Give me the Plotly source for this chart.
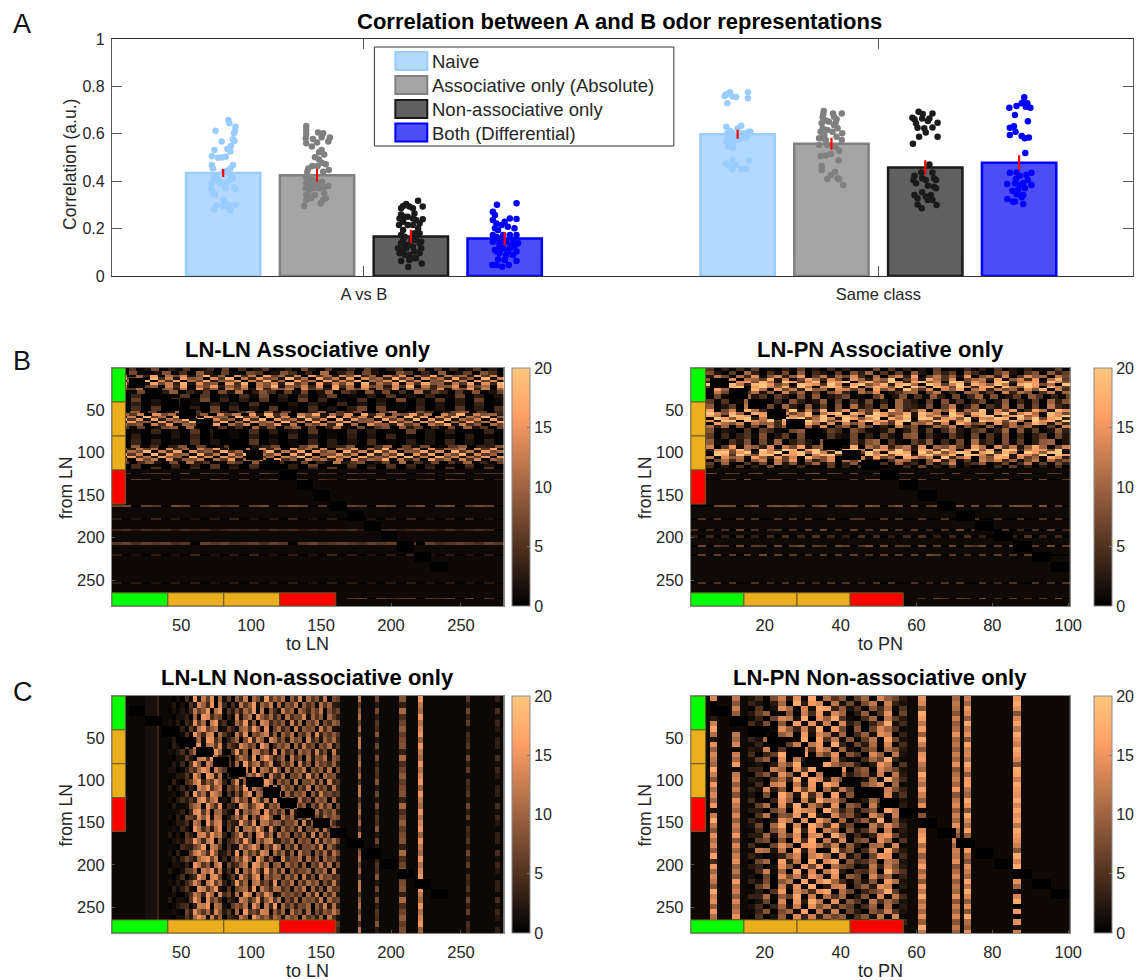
import numpy as np
import plotly.graph_objects as go

W, H = 1137, 980
EXTRA = 20  # paper runs past the window on the right, so that colorbars do not push the layout
ML, MR, MT, MB = 40, 2 + EXTRA, 30, 40

# ---------- Panel A data ----------
categories = ["A vs B", "Same class"]
category_pos = [1, 2]
group_names = ["Naive", "Associative only (Absolute)", "Non-associative only", "Both (Differential)"]
group_offsets = [-0.2736, -0.0912, 0.0912, 0.2736]
naive_means = [0.435, 0.598]
assoc_means = [0.425, 0.558]
nonassoc_means = [0.167, 0.458]
both_means = [0.158, 0.478]
naive_err = [0.017, 0.019]
assoc_err = [0.026, 0.025]
nonassoc_err = [0.028, 0.030]
both_err = [0.028, 0.032]

naive_ab_y = [.658,.644,.630,.613,.602,.613,.577,.571,.567,.55,.532,.536,.532,.525,.505,.499,.50,.503,.468,.454,.468,.454,.444,.44,.422,.412,.391,.405,.391,.384,.426,.412,.374,.367,.37,.366,.352,.342,.323,.304,.30,.30,.298,.281,.295,.293,.277,.398,.398,.405]
naive_ab_dx = [.010,.012,.024,.023,.021,-.015,.019,.022,-.003,.015,-.017,.008,.013,.014,-.022,-.010,-.003,.005,-.022,-.020,.019,.014,.008,.001,-.015,-.019,-.023,-.012,-.005,.001,.014,.019,.021,.024,.005,-.023,-.021,-.015,0,.005,.011,.024,-.013,-.018,0,.008,.014,-.008,.008,.014]
assoc_ab_y = [.633,.616,.599,.581,.56,.546,.606,.602,.584,.567,.585,.578,.563,.532,.522,.513,.501,.492,.478,.471,.464,.464,.454,.447,.44,.44,.419,.412,.405,.391,.384,.391,.398,.38,.37,.363,.37,.37,.374,.342,.335,.342,.349,.328,.321,.328,.307,.295,.321,.384]
assoc_ab_dx = [-.021,-.021,-.021,-.022,-.021,-.010,.002,.012,.025,.022,.009,-.008,0,.009,.004,.014,-.004,.004,.009,.017,-.009,.001,-.017,.023,-.019,.012,-.022,-.015,-.009,-.021,-.012,.001,.010,.022,-.022,-.015,-.006,.004,.014,-.021,-.012,-.004,.014,.017,-.021,-.012,.007,-.025,.012,-.003]
nonassoc_ab_y = [.318,.293,.304,.295,.286,.286,.293,.264,.26,.25,.239,.215,.229,.243,.222,.201,.194,.215,.215,.173,.166,.18,.18,.145,.138,.138,.117,.11,.131,.124,.117,.096,.089,.089,.103,.096,.063,.068,.075,.053,.038,.117,.152,.152,.131,.075,.152,.25,.236,.243]
nonassoc_ab_dx = [.014,.023,-.009,-.015,-.019,.004,-.003,.007,-.019,-.012,.023,-.023,-.015,.004,.017,.014,-.015,-.006,.004,-.019,-.012,.017,.007,.020,.017,-.019,-.025,-.015,-.006,.004,.020,-.022,-.012,-.003,.007,.017,-.019,-.003,.010,.021,-.005,-.009,.001,.010,-.012,.007,-.015,-.006,.010,-.022]
both_ab_y = [.301,.307,.271,.257,.236,.222,.243,.24,.229,.208,.201,.215,.201,.194,.173,.166,.173,.173,.173,.145,.145,.152,.138,.103,.117,.117,.103,.096,.089,.089,.07,.063,.068,.046,.046,.039,.046,.124,.103,.131,.11,.138,.152,.159,.124]
both_ab_dx = [-.015,.023,-.023,-.019,-.023,-.016,.010,.023,0,.006,-.019,-.006,.019,-.013,-.023,-.016,-.003,.010,.023,-.023,.003,.016,-.010,-.016,-.003,.010,.023,-.010,.003,.016,-.013,.023,0,-.024,-.016,-.005,.008,-.010,.006,.013,-.019,.026,-.003,-.013,.019]
naive_sc_y = [.775,.767,.759,.757,.755,.775,.75,.729,.63,.613,.634,.623,.602,.602,.609,.602,.609,.588,.595,.588,.588,.577,.567,.567,.553,.546,.539,.489,.475,.466,.45,.468,.488,.451,.451,.464,.602,.574,.581,.581]
naive_sc_dx = [-.015,-.022,-.025,-.010,-.003,.020,.020,-.020,-.022,-.015,.007,0,-.010,-.020,.022,.017,.025,.012,.020,-.017,-.007,.003,-.014,-.022,-.010,-.018,-.009,-.010,-.023,-.018,-.010,-.003,.022,.007,.017,-.014,.009,-.004,-.020,.015]
assoc_sc_y = [.696,.682,.669,.686,.672,.686,.655,.644,.647,.623,.609,.602,.609,.595,.581,.574,.553,.581,.574,.588,.553,.546,.529,.515,.508,.506,.487,.464,.447,.44,.426,.409,.412,.408,.384,.637,.651,.616,.661,.623]
assoc_sc_dx = [-.015,-.016,-.017,.003,.005,.020,-.010,-.019,.008,.012,.002,.021,-.021,-.014,-.019,-.011,-.024,-.024,.020,.010,-.008,.008,.015,-.001,-.011,-.021,.014,-.019,-.019,.007,-.001,-.008,.012,.015,.023,.005,-.005,-.008,.010,-.017]
nonassoc_sc_y = [.693,.684,.686,.668,.661,.665,.665,.654,.644,.647,.626,.623,.627,.605,.588,.588,.558,.47,.437,.423,.405,.391,.412,.405,.437,.412,.405,.381,.377,.342,.353,.335,.342,.321,.328,.302,.30,.286,.321,.37]
nonassoc_sc_dx = [-.013,-.005,.014,-.025,-.021,-.006,.008,.005,-.018,.024,-.015,-.002,.014,.001,-.012,.024,-.024,.008,-.008,-.021,-.023,-.018,-.006,.001,.014,.017,.021,.005,.017,-.021,-.006,.001,.011,.014,-.015,-.015,.022,-.007,.005,.021]
both_sc_y = [.754,.733,.729,.729,.714,.71,.71,.717,.679,.653,.626,.632,.609,.595,.591,.581,.584,.519,.436,.437,.436,.426,.423,.405,.409,.388,.391,.384,.391,.384,.36,.363,.37,.342,.345,.325,.314,.314,.304,.332]
both_sc_dx = [.010,.008,.016,.005,.013,.022,-.019,-.005,-.008,.017,-.018,-.010,-.007,-.018,.005,.011,.019,.012,-.018,-.005,.024,.014,.001,.017,-.006,-.023,-.008,.024,.008,.001,-.013,-.002,.011,.008,-.005,-.023,-.012,-.008,.008,.005]

# ---------- Heatmap data ----------
# characters are base-21 values, 0-9 then a=10 ... k=20
n_from = 280
n_ln = 280
n_pn = 100
block_rows = 12
block_cols_ln = 12
block_cols_pn = 5
n_blocks = 19
panel_levels = [0.9, 1.0, 0.75, 0.85]

lnln_assoc_row_edges = [0,4,8,11,14,17,20,23,26,30,35,40,45,50,53,56,59,62,65,68,72,78,84,90,94,97,100,103,106,109,113,117,119,123,125,130,132,161,163,177,179,189,192,205,208,219,221,252,254,270,272,280]
lnln_assoc_rows = [
"20602803160240705026013082060140720350180604026030",
"4081029050a30710860295040c0370820196040a0270950",
"7e1b4h0c8f29k3a0g5d1i7b3e0h6c2f9j4a1e7g0c5i2d8b3h6f1",
"3i7c0k5e2h9b1f6j0d4g8a2k5c1i7e3h0f9b4j6d1g8c3i5a0k2e",
"h2d8k1f5i0c7j3a9g1e6k4b0h8d2i5f7j1c9g3k6e0a8i4d1h7f2",
"0j6c1i8e3k2g7a0h5k1d9f3j6b1i4e8g0k3c7h1f5j9a2d6i0g4k",
"9d2g7a0e5i1c8h3b6f0d9k2a7e4g1i5c0h8b3f6j1d4a9g2e7c0i",
"2a6c0f8b3d1h5a0e7c2g4b9d0f6a3i1c8e2b5g0d7a4f1c9h3e0b",
"5018203a0416082c0395071802a0630918050c2740619027",
"1040301606020518030402701030602040170302",
"3070205018040306020704010502080306030701",
"1030204010302050102031040203010302030401",
"2050601030704020601050203807010402060305",
"50a1702c0618305a0927014b0638107c0295038a1604",
"1b6e0g8c2i4a0f7d1h3k5b0e9i2c6g0j4d1a8h5c0f7k2e9b3",
"i3e0k7c1j5g0h9a2k6d0i4f1j8b3k0g6e2i9c1k5h0f7j2d8k1a",
"0k6g1i3d9k2j0f7b1i5k0h8c3j6e0k2g9a1i7d4k0h5j2c8f0i3",
"e1i7a0h4c8k1f6j0b3g9d1k5e2i0c7h3a9f0j6d2g8k0b4i6c1h",
"2c7a0e5g1b9d3i0c6f1a8h2d0b7e4j1c0g9a3f6b0d8i2e5a0c7",
"0617028a0c3906150b2807a1604c2081690a3705180b2607",
"3010402060301050302060104030107020301040",
"1030102040201030104020103020401020103010",
"2040301050203060201040302050103020402030",
"60a1503907016a0248017c0349015b0728016a0439",
"0a3d7c1f5b0e8h2a6d1g4c0i7b3f1d9h0c5k2a7e1g4b9d0f6i2",
"h2c8k1e5i0g7a3j6b0f9k2d4i1h8c0j5e3k7g1a9i4f0k6d2h8c",
"1i6e0k3h9b1j5d0g7k2c8f0i4k1a9h6e0j3c7k1g5i0d8k2f6b0",
"e0h5c2i9a1k4f0g7d2j6b0e8k1c3h9f0i5a7g1k3d0j8e2c6h0g",
"4b0f8d1g3a9e0c6h2b7d0i5a1f8c3e0g6b9j1d4a0h7c2e5f0b8",
"1705a2080c3601960a2b5018040d3690271c0518062b0417",
"2050104030602050103070105020604030105020",
"3040503040603040503040603040503040503060",
"1",
"5604650706450607504606507460560460570465",
"1",
"6075060460750604607506407506050460750604",
"1",
"7807608706867078068706087608706807806870",
"1",
"3020403020304020304020304020304020304020",
"1",
"4535453545345453545343545354534543534540",
"1",
"6757675607675675760675676576756075676576",
"1",
"3020302040203040203020403020304020302030",
"1",
"3030203030203030203020303020303020302030",
"1",
"1111111111111111111111116707567065707060",
"1",
]

lnpn_assoc_row_edges = [0,4,8,12,15,18,21,24,27,31,36,42,48,52,55,58,61,64,67,71,76,84,91,95,98,101,104,107,110,114,118,123,125,130,132,161,163,177,179,189,192,197,200,208,211,219,221,252,254,270,272,280]
lnpn_assoc_rows = [
"20503040601030602040301070503020601040305020301060",
"4082060a305170904206083a05160920736084106a20580936",
"6a2c70b4e18d39f06c2a7e41b09d3g07c5a2f18b3d06e9a1c7",
"1c9f3e0ba6h2d07gb4e81fa3c9k06d2hb5e07ac3g19d4f0bi6",
"jc3kh0ef8ib2kg5dj1hfk0cia7ke3gj9d1kh6fb0ik4ceg2jd8",
"h0ke9jc3ikf7b0jhe5kd1gk8ci3hjb0kf6dk2ie9jc1hkg7b0k",
"ek6b2hj0fkd9i3kc0ejg6k1bhf8j2kc0ie7kd4gh2jb9kf0hc6",
"9d0ga5e2ib0f7c3h9a1ed6b0g8c2ja5e1d9h0bf3c7a2e8i0d4",
"5a0c7306b290d4a1608c30b7e0259a07c140a9260d3b805c1a",
"2807140a25063081902470106a028051930704a180260950317",
"306050 1a270408302906051703 0a420608150370290416 0a38",
"5090260c4170a30916080b25070a431806c039052a08170c42",
"a3g07d1ib40e8k2c5h09f1a6d0jb37e0c9h2a8k1d6f04gb2ie",
"g2kd8ia0hf3ke7bj1cgk0id5kf9ah2jeb0kc6gi1fk3dhb0je7",
"k7hc2kif0gjk4ebi9k1fhc0kjg6dk2ibf8kh0ejk3cgk9d1iek",
"ej1kg9hk3ci0kfk6bjd2kg8ek0hci1kj5fg9k2edkh0ibk7gj3",
"9kf2jk0iebk5gh1kdk8cj0fkeg6ik2b9kh3dj0kfg7ic1keh4k",
"3e0gb8d1c9a4f07hb2e0d8c1ga5i0b9e3d0hc7a1f6b09id2c4",
"60b3a08170c4905a2e0691b7030d5802a6c0831905b7a2060d",
"30802105064107930264085102703816049205703a08160293",
"20604035180260703052170306208904106207051804036072",
"40910528071a036209140728a051063904170b250816039a02",
"a2d06f1b93e0c7g28a4d1h0b7e39c2f0a8d61gb0e5c29ha07d",
"gk3ef9jb0kd6ki2gk7e1hkc0jf8kb3ig6kd1ek9h0kj4cgf7k2",
"kh1jk7fk2iek0gj9kd3khf6kc1ikg0kbj8ekh2fk5id0kg9jk1",
"ei0kg5kc8jk2hfk1dik6gb0kej7hk3fk9ci0kjd5hk2ge8k0jf",
"7hc1e9b0ga3f6d1ib8e0j5c2g7a0he9d1k4bf0c8ig2e6a0hd3",
"2e07b4a09d1c6f0a38e0b7d1905ca208g3b160d9e4a07c1b58",
"3060a105170c2804a1603907150a240816d035902704b16083",
"10402050307020401060305020104070305020104060302050",
"1",
"067065067006507806507006506700650700650706700650",
"1",
"07005608006700507800060780056070080050607800607006",
"1",
"00078706807878607806870870680706700807067078708060",
"1",
"05050050500505050050055005050050050505005005005050",
"1",
"50405070504505060705060507050604050705060504050604",
"1",
"30403040304050405040305040304050304050304030503040",
"1",
"07065070650706706507605807065070607065706070560706",
"1",
"06060606070606050606060506060607606050606050600000",
"1",
"05050500504050504050504050500504050500504050050405",
"1",
"11111111111111111111111111111150750650705060505070",
"1",
]

lnln_nonassoc_row_edges = list(range(0, 281, 7))
lnln_nonassoc_col_edges = [0,8,16,24,32,34,36] + list(range(40, 161, 3)) + [163,170,176,178,183,188,191,196,205,210,216,219,222,235,245,253,256,270,274,277,280]
lnln_nonassoc_left = "1112511"
lnln_nonassoc_mid = [
"102061k3g8j1e280c6h0ea3k7d9f0c5i1e7b3g0a",
"1302072id5k0h5060g7ck2d9h1e3b8g0c6a1f7d4",
"021315g8ck1fj173a4e9k1g0c62h9d0ea5c8g1b6",
"102240d1ki6b9041h2bf0jc8e5b0f6a9i2d7c0e8",
"213053j7e0hk3602e8k3c0ig5a7c2h4e0b8f1a6d",
"1214083gk9cf12841cf7kd2j09e5a0g3c9b1h6d2",
"301160kc5hi0e730g6j0b9eh3c1d8f0a6e2i4b7c",
"1307269e2kj6c048d0ak5gc1ie6b3f9c0h5a2d8e",
"042091hk1fg8i2953ie8b1kf06c9e0d4g7a1b8f3",
"213618e4jc0kd107k5c0hg7a2j0f6b2e9c3h5a1g",
"1022831gi7ke53609fb3j0ekc48d1g6a0e3b9f2c",
"031507kc2hd9j082e1k7dg4ai03c7f0h5b1e8a6d",
"2201496ekg1hb713c8h2k0fd5ja0e4c9g1b7d3f0",
"113372jd0ki4f0522gbe9kc1h75f0a8d3i6c0e9b",
"041068gk5c8je408j0ci6f3ke1c7b2g0a9e4d1h5",
"3025140ifk7dh196d5k1gb8h0f2e8c1a6g0d7b3f",
"120280k9e3jgc072a3fj0ec7k2g1d5b9e0c4h8a6",
"2036373hk8fi1309h8c2kd5g1j0b7e3f6a2d9c1e",
"031129eg1kc6j1640jf6bik3c9e4a0g8c1b5f7d0",
"112405ik7h0de520k2d9eg1j7c6c1f3a9h0e5b8d",
"2041985jck2gf038e7i0c5hkb10g8d2b6e1a4f9c",
"013361gd0k9hi2743kb6j1gf8dc5a9e0h3c7b1d6",
"121520kf6c3ej083g0ef9kc2i51d7b4g0a8e2f6c",
"3020741hi8kdg406bj4c1hk7e0f9c0a6d3h1e5b8",
"023287ke5gj0c157d6ka0f8gi33a7e1c8b0g4d9f",
"1106439ck1hf70622h9ekd1c6je0b5f2a9c6h1d7",
"204018gjd6kb2382k1f7c5ig0e7d3c0g8a1b6e4f",
"1315963eik9h0507e8jb0kd4c20h6a9f2e5c1d8b",
"022140kg7c2fj0946cg2ki9f1bd1e8b3c0a7g5f2",
"310278d1hek5g261h0e8jc3k7d5f0c6a9d2b8e1h",
"1026036kf0ij90381ib5gk0e8cc3d7e0g4a1f9b6",
"213159ic2gk8e405k7d0fh6a3j0b8f1c6e9d2a5g",
"0414820jh7dk31709ce3k1gb5fe6a2c8g0d4b1f7",
"120036gd5ke1i692f2kh0d8je03c9b7a1e5h0d6f",
"302217ke1j8c60530he6bk4ci7f0a5d2c9b6g1e8",
"0135604hgk0fd208c8f1jd0g5k1e7b4a9d0c6h3f",
"121094jc7e3ib371e0k7a6ih2c6d0f8b3e1a5c9g",
"102273ekg1h5d0643gb0kf9d5eb2e9c0f7a4d1g6",
"0301489fc6k2g195h6d2e0jc8a0c5a8d3b6e1f2h",
"112305ci3e8kd042d1g9c5f0b77b0e4c1g9a3d5e",
]
lnln_nonassoc_right = [
"811g11911b11k11171141", "311711311411g11131111", "911c11a11e11e11191161", "411f11411611k11141121",
"a11911711911f11181151", "211e11611c11i11121131", "711611b11811k11161111", "511g11311a11d11151141",
]

lnpn_nonassoc_row_edges = list(range(0, 277, 6)) + [280]
lnpn_nonassoc_col_edges = [0,5,7,11,13,15,17,19,21,23,25,27,29,31,33,35,37,39,41,43,45,47,49,51,53,55,57,60,62,69,71,72,74,85,87,100]
lnpn_nonassoc_rows = [
"1g1e1 2509f3h1k0 d6a07c0gb83 1h1c1f1i1",
"101a1 4203c0k3ig 0e2819e1f42 1g1e1c1k1",
"1c1f1 0602hc0g2k j4b260a5d16 1a1d1i1h1",
"1h1b1 37b01a0f5i 2gc03b06h08 1k1a1g1a1",
"131g1 1408ge2k0h bk6105c0e73 1i1f1b1g1",
"1f1d1 5290a0j1h2 f0g3704ak25 1e1b1k1j1",
"1j111 2301hb4f3k 0i80a08gc61 1j1d1e1e1",
"1d1e1 0710be0i2g d2c05b2hf04 1b1h1h1k1",
"121c1 42c0301k0j 6e1a07e0j82 1k1c1a1h1",
"1h1g1 140ah7f0ei 0k4083d1g15 1f1e1j1f1",
"1b111 32f06c0g5h e1c207a0d93 1a1b1f1k1",
"1g1f1 5047ka2j1d 8h0a60gb0e2 1h1f1g1i1",
"1e1c1 27b0h0e3ig 0f3105c8k41 1i1c1d1g1",
"1c1i1 1203e9k1f4 jc8a403ie06 1e1h1k1a1",
"1k111 440fc0h6k0 d2h08b0gc82 1c1a1g1k1",
"1f1e1 06a2hb1j0e g0c37a2f1e3 1k1d1b1j1",
"1a1g1 3208d4k0jg 3e9062c0kb5 1g1f1i1f1",
"1i1b1 150fh0e2i1 kg0a09dh0c1 1d1c1j1k1",
"1d1f1 42g3a0i8h0 c3e706b1f94 1j1i1e1i1",
"1g1a1 2090kd2k5g 0j1a05e0g26 1f1a1c1h1",
"1c1h1 5104ib0f3k ef8013c7i02 1b1e1k1k1",
"1i1e1 17d0h3k1e9 2h0b80f3d73 1h1g1h1g1",
"121c1 3308c0jgf0 kc4927a0je1 111b1a1k1",
"1f1g1 06e1a9i2k3 0g7a30gb1f5 1a1f1k1h1",
"1k1b1 4203he0h1i d0c16b3k0a2 1e1c1g1j1",
"1e1f1 280ck1g0ke 5i3800e7hb4 1c1h1d1e1",
"1a1d1 1509f0k4j0 fb0a26d0f13 1g1d1j1k1",
"1h1i1 33c2e8h1gh 0kc0514gi82 1i1a1b1i1",
"1d1a1 0790a0i5k1 e3g08a0hc06 1k1g1g1h1",
"1g1g1 5108hc0ije 7f1b30cd2g1 1d1c1k1f1",
"1b1c1 1ed2e0k3g0 0k6a05e1k83 1h1f1i1a1",
"1j1f1 42014bg1fi c1f2708ih05 1b1e1d1k1",
"151h1 08c0j3e0k2 gk0a46b0ec2 1f1h1a1g1",
"1i1b1 3402ha1i8j 0d9712e4f93 1j1a1h1k1",
"1c1e1 15f1c0k0g1 ej3065d0kb6 1c1d1f1e1",
"1g1a1 2080h9f3ie 1h0b80g8c14 1g1g1c1k1",
"1e1i1 4290ae0j2g kc5172a0id2 1a1b1j1h1",
"1a1d1 07c0f2h1k0 3fg06b3hf03 1i1e1e1c1",
"1k1f1 1306i0gc5h j0d8048bk71 1e1c1k111",
"1f1b1 44d1b7k0f1 d6c03a0g1e5 1k1h1g1g1",
"1h1g1 0280g0i3ke 0h1a60e5c82 1d1a1b1k1",
"1b1c1 2504c2f0h9 e3a715b0d03 1g1f1h101",
"1i1e1 14a09c1j0e 2f0830a7f62 1c1c1a1i1",
"1d1h1 0602b0g4f3 c8b06a2e0g1 1h1g1k101",
"1g1b1 3170a2e0c9 0d5402c9a04 1b1a1d1h1",
"121e1 2406c0d3g1 a0904790e21 1k1e1b121",
"1h111 05208b1e0c 5a0360a4b82 1e1b1h1f1",
]

class_edges_ln = [0, 40, 80, 120, 160]
class_edges_pn = [0, 14, 28, 42, 56]
class_edges_from = [0, 40, 80, 120, 160]
class_colors = ["#00FF00", "#EAAE1F", "#EAAE1F", "#FF0000"]

# ---------- Styling ----------
FONT = "Liberation Sans, Arial, sans-serif"
TXT = "#262626"
fills = ["rgb(180,217,255)", "rgb(165,165,165)", "rgb(96,96,96)", "rgb(77,77,245)"]
edges = ["rgb(153,204,255)", "rgb(128,128,128)", "rgb(26,26,26)", "rgb(0,0,255)"]
copper = [[0, "#000000"], [0.25, "rgb(80,50,32)"], [0.5, "rgb(159,100,64)"], [0.8, "rgb(255,159,102)"], [1, "rgb(255,199,127)"]]


def px(x):
    return (x - ML) / (W + EXTRA - ML - MR)


def py(y):
    return 1 - (y - MT) / (H - MT - MB)


def build(rows, row_edges, col_edges, nr, nc, cols_per_block, level):
    z = np.zeros((nr, nc))
    for i, s in enumerate(rows):
        vals = np.array([int(c, 21) for c in s.replace(" ", "")], dtype=float) * level
        if col_edges is None:
            z[row_edges[i]:row_edges[i + 1], :] = vals[np.arange(nc) * len(vals) // nc]
        else:
            for j, v in enumerate(vals):
                z[row_edges[i]:row_edges[i + 1], col_edges[j]:col_edges[j + 1]] = v
    for k in range(1, n_blocks + 1):
        z[block_rows * k:block_rows * (k + 1), cols_per_block * k:cols_per_block * (k + 1)] = 0
    return z


lnln_nonassoc_rows = [lnln_nonassoc_left + m + lnln_nonassoc_right[i % len(lnln_nonassoc_right)] for i, m in enumerate(lnln_nonassoc_mid)]

fig = go.Figure()

# ---------- Panel A ----------
means = [naive_means, assoc_means, nonassoc_means, both_means]
errs = [naive_err, assoc_err, nonassoc_err, both_err]
pts = [
    [(naive_ab_dx, naive_ab_y), (naive_sc_dx, naive_sc_y)],
    [(assoc_ab_dx, assoc_ab_y), (assoc_sc_dx, assoc_sc_y)],
    [(nonassoc_ab_dx, nonassoc_ab_y), (nonassoc_sc_dx, nonassoc_sc_y)],
    [(both_ab_dx, both_ab_y), (both_sc_dx, both_sc_y)],
]
for g in range(4):
    xs = [c + group_offsets[g] for c in category_pos]
    fig.add_trace(go.Bar(x=xs, y=means[g], width=0.1445, marker=dict(color=fills[g], line=dict(color=edges[g], width=2.5)),
                         name=group_names[g], showlegend=False, xaxis="x", yaxis="y"))
for g in range(4):
    xs = [c + group_offsets[g] for c in category_pos]
    for c in range(2):
        dx, y = pts[g][c]
        fig.add_trace(go.Scatter(x=[xs[c] + d for d in dx], y=y, mode="markers", showlegend=False,
                                 marker=dict(color=edges[g], size=6.5, line=dict(width=0)), xaxis="x", yaxis="y"))
for g in range(4):
    xs = [c + group_offsets[g] for c in category_pos]
    fig.add_trace(go.Scatter(x=xs, y=means[g], mode="markers", marker=dict(size=1, color="red"), showlegend=False,
                             error_y=dict(type="data", array=errs[g], color="#FF0000", thickness=2.2, width=0), xaxis="x", yaxis="y"))

layout = dict(
    width=W + EXTRA, height=H, margin=dict(l=ML, r=MR, t=MT, b=MB), paper_bgcolor="white", plot_bgcolor="white",
    barmode="overlay", font=dict(family=FONT, color=TXT, size=15), showlegend=False,
    xaxis=dict(domain=[px(112), px(1135)], range=[0.510, 2.495], tickvals=category_pos, ticktext=categories,
               ticks="inside", ticklen=10, tickcolor="#555", mirror="ticks", showline=True, linecolor="#333", linewidth=1,
               showgrid=False, zeroline=False, tickfont=dict(size=16.5, family=FONT, color=TXT), anchor="y", ticklabelstandoff=3),
    yaxis=dict(domain=[py(276), py(39)], range=[0, 1], tickvals=[0, .2, .4, .6, .8, 1], ticktext=["0", "0.2", "0.4", "0.6", "0.8", "1"],
               ticks="inside", ticklen=10, tickcolor="#555", mirror="ticks", showline=True, linecolor="#555", linewidth=1,
               showgrid=False, zeroline=False, tickfont=dict(size=16, family=FONT, color=TXT), anchor="x", ticklabelstandoff=3),
)

annotations = []
shapes = []


def text(x, y, s, size, bold=False, color=TXT, angle=0, xanchor="center"):
    annotations.append(dict(xref="paper", yref="paper", x=px(x), y=py(y), text=f"<b>{s}</b>" if bold else s, showarrow=False,
                            font=dict(family=FONT, size=size, color=color), textangle=angle, xanchor=xanchor, yanchor="middle"))


text(621, 21, "Correlation between A and B odor representations", 22, bold=True, color="#000")
text(70, 164, "Correlation (a.u.)", 17.5, angle=-90)
text(22, 24, "A", 27, color="#111")
text(22, 361, "B", 27, color="#111")
text(23, 692, "C", 27, color="#111")

shapes.append(dict(type="rect", xref="paper", yref="paper", x0=px(375), x1=px(675), y0=py(146), y1=py(47), fillcolor="white",
                   line=dict(color="#333", width=1), layer="above"))
for g, yc in enumerate([61, 85, 109, 132.5]):
    shapes.append(dict(type="rect", xref="paper", yref="paper", x0=px(396), x1=px(428), y0=py(yc + 9), y1=py(yc - 9), fillcolor=fills[g],
                       line=dict(color=edges[g], width=2), layer="above"))
    text(431, yc + 0.5, group_names[g], 18.5, xanchor="left")

# ---------- Heatmap panels ----------
panels = [
    ("LN-LN Associative only", lnln_assoc_rows, lnln_assoc_row_edges, None, n_ln, block_cols_ln, class_edges_ln,
     112, 504.5, 368, 606, 513, "to LN", [50, 100, 150, 200, 250], 9.7),
    ("LN-PN Associative only", lnpn_assoc_rows, lnpn_assoc_row_edges, None, n_pn, block_cols_pn, class_edges_pn,
     692, 1072, 368, 606, 1096, "to PN", [20, 40, 60, 80, 100], 3.9),
    ("LN-LN Non-associative only", lnln_nonassoc_rows, lnln_nonassoc_row_edges, lnln_nonassoc_col_edges, n_ln, block_cols_ln, class_edges_ln,
     112, 504.5, 696, 933, 513, "to LN", [50, 100, 150, 200, 250], 9.7),
    ("LN-PN Non-associative only", lnpn_nonassoc_rows, lnpn_nonassoc_row_edges, lnpn_nonassoc_col_edges, n_pn, block_cols_pn, class_edges_pn,
     692, 1072, 696, 933, 1096, "to PN", [20, 40, 60, 80, 100], 3.9),
]
for i, (title, rows, re_, ce, nc, bc, cls, x0, x1, y0, y1, cbx, xlab, xt, sw) in enumerate(panels):
    n = i + 2
    xa, ya = f"x{n}", f"y{n}"
    z = build(rows, re_, ce, n_from, nc, bc, panel_levels[i])
    fig.add_trace(go.Heatmap(z=z, x=list(range(1, nc + 1)), y=list(range(1, n_from + 1)), zmin=0, zmax=20, colorscale=copper,
                             xaxis=xa, yaxis=ya, hoverinfo="skip",
                             colorbar=dict(x=px(cbx), xanchor="left", thickness=17.5, thicknessmode="pixels",
                                           len=(y1 - y0) / (H - MT - MB), lenmode="fraction", y=py(y1), yanchor="bottom", xpad=0, ypad=0,
                                           tickvals=[0, 5, 10, 15, 20], ticks="inside", ticklen=3, tickcolor="#777",
                                           outlinecolor="#888", outlinewidth=1, tickfont=dict(size=16, family=FONT, color=TXT))))
    layout[f"xaxis{n}"] = dict(domain=[px(x0), px(x1)], range=[0.5, nc + 0.5], tickvals=xt, ticks="inside", ticklen=3, tickcolor="#555",
                               showline=True, mirror=True, linecolor="#888", showgrid=False, zeroline=False, anchor=ya,
                               tickfont=dict(size=16.5, family=FONT, color=TXT), ticklabelstandoff=4)
    layout[f"yaxis{n}"] = dict(domain=[py(y1), py(y0)], range=[n_from + 0.5, 0.5], tickvals=[50, 100, 150, 200, 250], ticks="inside", ticklen=3,
                               tickcolor="#555", showline=True, mirror=True, linecolor="#888", showgrid=False, zeroline=False, anchor=xa,
                               tickfont=dict(size=16.5, family=FONT, color=TXT), ticklabelstandoff=3)
    for c in range(4):
        shapes.append(dict(type="rect", xref=xa, yref=ya, x0=0.5, x1=0.5 + sw, y0=class_edges_from[c] + 0.5, y1=class_edges_from[c + 1] + 0.5,
                           fillcolor=class_colors[c], line=dict(color="#6b5a20", width=1), layer="above"))
        shapes.append(dict(type="rect", xref=xa, yref=ya, x0=cls[c] + 0.5, x1=cls[c + 1] + 0.5, y0=265, y1=n_from + 0.5,
                           fillcolor=class_colors[c], line=dict(color="#6b5a20", width=1), layer="above"))
    xc = (x0 + x1) / 2
    text(xc, y0 - 18.5, title, 22, bold=True, color="#000")
    text(xc, y1 + 37.5, xlab, 18)
    text(x0 - 46, (y0 + y1) / 2 + 1, "from LN", 17.5, angle=-90)

layout["annotations"] = annotations
layout["shapes"] = shapes
fig.update_layout(**layout)

fig.write_html("out.html", config=dict(displayModeBar=False), post_script="document.body.style.margin='0';document.body.style.overflow='hidden';")
